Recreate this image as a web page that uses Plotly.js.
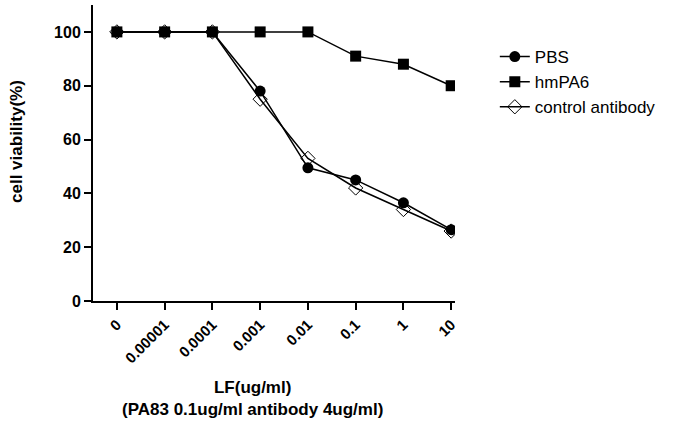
<!DOCTYPE html>
<html>
<head>
<meta charset="utf-8">
<script src="https://cdn.plot.ly/plotly-3.0.1.min.js"></script>
<style>
  body { margin: 0; background: #fff; }
  #chart { width: 685px; height: 433px; }
</style>
</head>
<body>
<div id="chart"></div>
<script>
var doses = ['0', '0.00001', '0.0001', '0.001', '0.01', '0.1', '1', '10'];
var pbs = [100, 100, 100, 78, 49.5, 45, 36.5, 26.5];
var hmpa6 = [100, 100, 100, 100, 100, 91, 88, 80];
var control = [100, 100, 100, 75, 53, 42, 34, 26];

var xTitle = '<b>LF(ug/ml)<br>(PA83 0.1ug/ml antibody 4ug/ml)</b>';
var yTitle = '<b>cell viability(%)</b>';

var line = {color: '#000', width: 1.5};

var data = [
  {
    x: doses, y: pbs, name: 'PBS', type: 'scatter', mode: 'lines+markers',
    line: line,
    marker: {symbol: 'circle', size: 11, color: '#000'}
  },
  {
    x: doses, y: hmpa6, name: 'hmPA6', type: 'scatter', mode: 'lines+markers',
    line: line,
    marker: {symbol: 'square', size: 11, color: '#000'}
  },
  {
    x: doses, y: control, name: 'control antibody', type: 'scatter', mode: 'lines+markers',
    line: line,
    marker: {symbol: 'diamond-open', size: 11, color: '#000', line: {width: 1}}
  }
];

var layout = {
  width: 685,
  height: 433,
  margin: {l: 93, r: 230, t: 5, b: 132},
  paper_bgcolor: '#fff',
  plot_bgcolor: '#fff',
  font: {family: 'Liberation Sans, Arial, sans-serif', color: '#000'},
  showlegend: true,
  legend: {
    x: 1.11, y: 0.885, xanchor: 'left', yanchor: 'top',
    font: {size: 17},
    itemwidth: 30,
    tracegroupgap: 0
  },
  xaxis: {
    type: 'category',
    range: [-0.5, 7.08],
    showline: true, linecolor: '#000', linewidth: 2,
    ticks: 'outside', ticklen: 7, tickwidth: 2, tickcolor: '#000',
    tickangle: -45,
    tickfont: {size: 15, weight: 'bold'},
    showgrid: false, zeroline: false
  },
  yaxis: {
    range: [0, 110],
    tickvals: [0, 20, 40, 60, 80, 100],
    showline: true, linecolor: '#000', linewidth: 2,
    ticks: 'outside', ticklen: 7, tickwidth: 2, tickcolor: '#000',
    tickfont: {size: 16, weight: 'bold'},
    showgrid: false, zeroline: false
  },
  annotations: [
    {
      text: xTitle, xref: 'paper', yref: 'paper',
      x: 0.44, y: -0.255, xanchor: 'center', yanchor: 'top',
      showarrow: false, font: {size: 17}
    },
    {
      text: yTitle, xref: 'paper', yref: 'paper',
      x: -0.245, y: 0.54, xanchor: 'left', yanchor: 'middle',
      textangle: -90, showarrow: false, font: {size: 17}
    }
  ]
};

Plotly.newPlot('chart', data, layout, {displayModeBar: false});
</script>
</body>
</html>
